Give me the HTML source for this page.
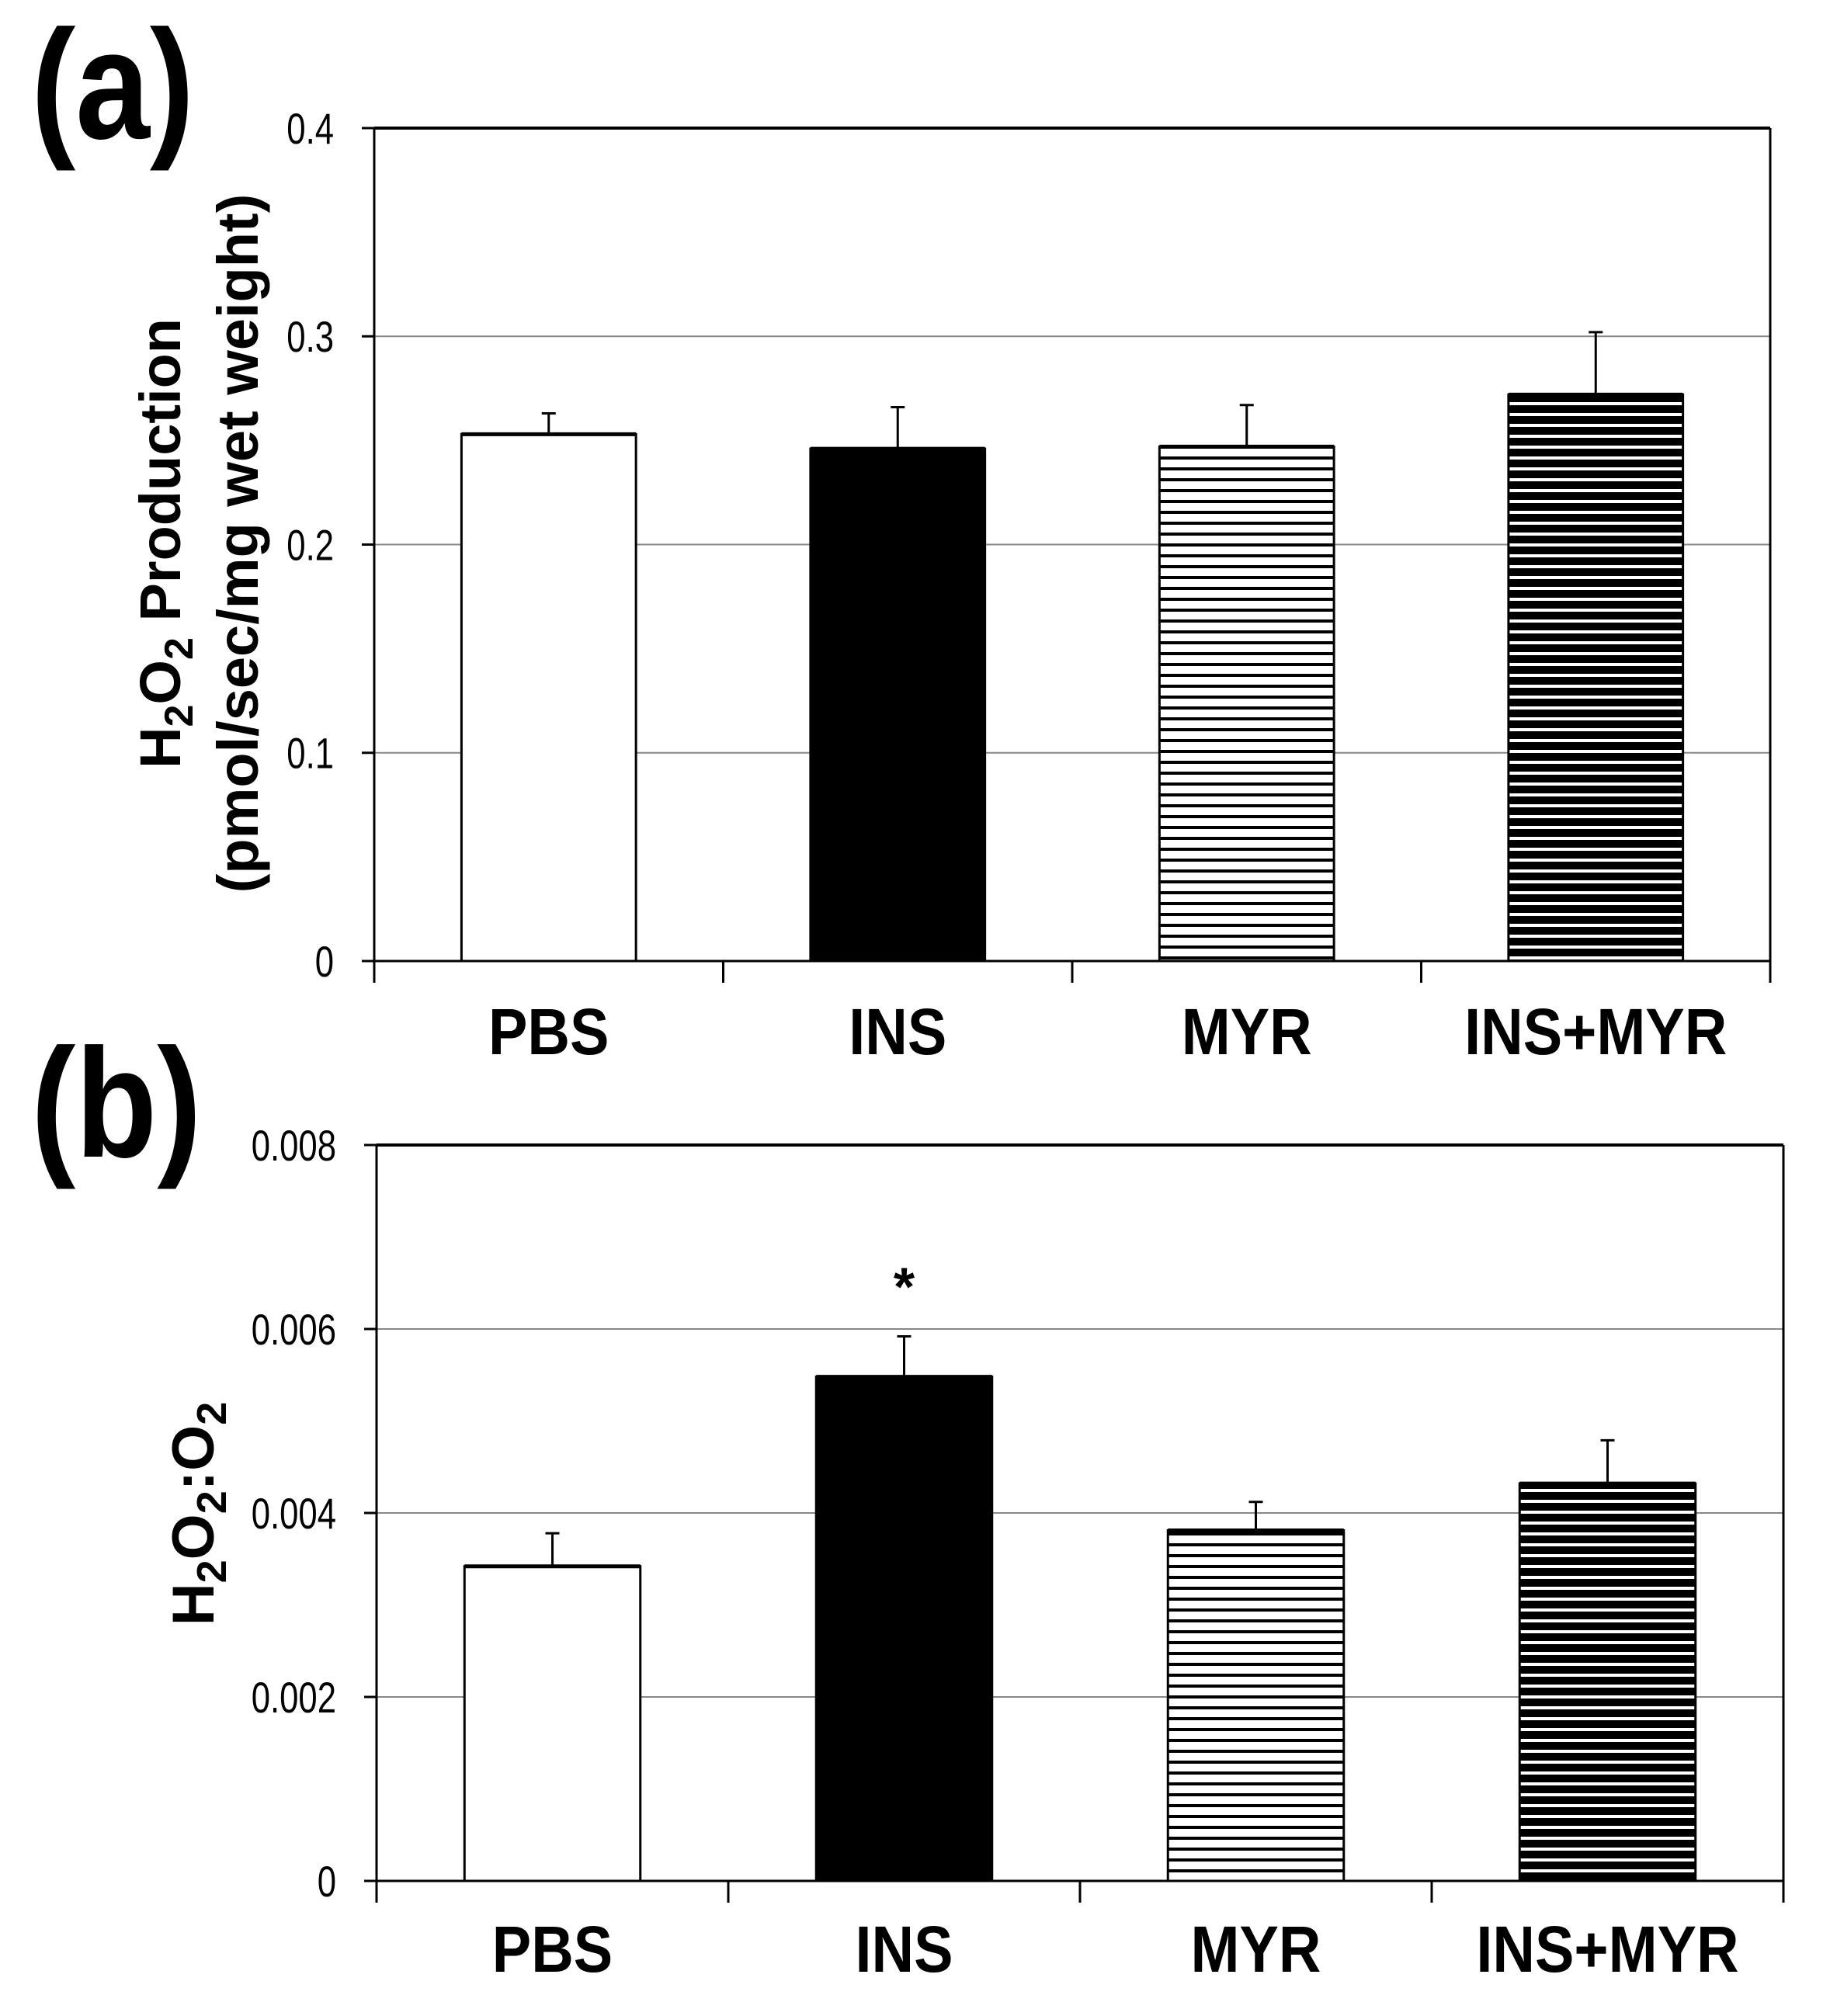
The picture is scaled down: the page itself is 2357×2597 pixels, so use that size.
<!DOCTYPE html>
<html><head><meta charset="utf-8"><style>
html,body{margin:0;padding:0;background:#fff}
svg{display:block}
text{font-family:"Liberation Sans",Arial,sans-serif}
</style></head><body>
<svg id="fig" width="2357" height="2597" viewBox="0 0 2357 2597" xmlns="http://www.w3.org/2000/svg">
<defs>
<pattern id="hatchW" patternUnits="userSpaceOnUse" width="20" height="14"><rect width="20" height="14" fill="#fff"/><rect y="0" width="20" height="4" fill="#000"/></pattern>
<pattern id="hatchB" patternUnits="userSpaceOnUse" width="20" height="14"><rect width="20" height="14" fill="#000"/><rect y="0" width="20" height="4" fill="#fff"/></pattern>
</defs>
<g id="gA"></g>
<g id="gB"></g>
</svg>
<script>
const categories = ["PBS","INS","MYR","INS+MYR"];
const valuesA = [0.253, 0.246, 0.247, 0.272];
const errorsA = [0.010, 0.020, 0.020, 0.030];
const ticksA = [0, 0.1, 0.2, 0.3, 0.4];
const tickLabelsA = ["0","0.1","0.2","0.3","0.4"];
const valuesB = [0.00342, 0.00548, 0.00381, 0.00432];
const errorsB = [0.00036, 0.00044, 0.00031, 0.00047];
const ticksB = [0, 0.002, 0.004, 0.006, 0.008];
const tickLabelsB = ["0","0.002","0.004","0.006","0.008"];
const fills = ["#fff","#000","url(#hatchW)","url(#hatchB)"];

const NS="http://www.w3.org/2000/svg";
function mk(p,tag,attrs){const e=document.createElementNS(NS,tag);for(const k in attrs)e.setAttribute(k,attrs[k]);p.appendChild(e);return e;}
function sx(x,s){return `translate(${x},0) scale(${s},1) translate(${-x},0)`;}

function panel(g,o){
  const y=v=>o.bottom-(v/o.max)*(o.bottom-o.top);
  const band=(o.right-o.left)/categories.length;
  const x=i=>o.left+band*i;
  o.ticks.forEach((t,i)=>{
    if(t>0&&t<o.max){const l=mk(g,'line',{x1:o.left,x2:o.right,y1:y(t),y2:y(t),stroke:'#888','stroke-width':2});
    
    }
    const tx=o.left-52;
    const tl=mk(g,'text',{x:tx,y:y(t)+20,'text-anchor':'end','font-size':56,fill:'#000',transform:sx(tx,0.78)});
    tl.textContent=o.labels[i];
    
    
    mk(g,'line',{x1:o.left-16,x2:o.left,y1:y(t),y2:y(t),stroke:'#000','stroke-width':3});
  });
  mk(g,'line',{x1:o.left,x2:o.right,y1:o.top,y2:o.top,stroke:'#000','stroke-width':4});
  mk(g,'line',{x1:o.right,x2:o.right,y1:o.top,y2:o.bottom+28,stroke:'#000','stroke-width':3});
  o.values.forEach((v,i)=>{
    const bw=band*0.5, bx=x(i)+band*0.25;
    const cx=bx+bw/2;
    const top=y(v+o.errors[i]);
    mk(g,'line',{x1:cx,x2:cx,y1:y(v),y2:top,stroke:'#000','stroke-width':3});
    mk(g,'line',{x1:cx-9,x2:cx+9,y1:top,y2:top,stroke:'#000','stroke-width':3});
    const r=mk(g,'rect',{x:bx,y:y(v),width:bw,height:y(0)-y(v),fill:fills[i],stroke:'#000','stroke-width':3});
    
    
    mk(g,'line',{x1:bx,x2:bx+bw,y1:y(v),y2:y(v),stroke:'#000','stroke-width':5});
    const cl=mk(g,'text',{x:cx,y:o.catY,'text-anchor':'middle','font-size':84,'font-weight':'bold',fill:'#000',transform:sx(cx,0.9)});
    cl.textContent=categories[i];
    
    
    if(o.star===i){const s=mk(g,'text',{x:cx,y:top-40,'text-anchor':'middle','font-size':70,'font-weight':'bold',fill:'#000'});s.textContent='*';
      
      }
  });
  mk(g,'line',{x1:o.left,x2:o.left,y1:o.top,y2:o.bottom+28,stroke:'#000','stroke-width':3});
  mk(g,'line',{x1:o.left,x2:o.right,y1:o.bottom,y2:o.bottom,stroke:'#000','stroke-width':3});
  for(let i=1;i<categories.length;i++) mk(g,'line',{x1:x(i),x2:x(i),y1:o.bottom,y2:o.bottom+28,stroke:'#000','stroke-width':3});
}
const gA=document.getElementById('gA'), gB=document.getElementById('gB');
panel(gA,{left:482,right:2280,top:165,bottom:1238,max:0.4,ticks:ticksA,labels:tickLabelsA,values:valuesA,errors:errorsA,catY:1358});
panel(gB,{left:485,right:2297,top:1475,bottom:2423,max:0.008,ticks:ticksB,labels:tickLabelsB,values:valuesB,errors:errorsB,catY:2540,star:1});

function txt(g,name,x,y,size,content,extra){const t=mk(g,'text',Object.assign({x:x,y:y,'font-size':size,'font-weight':'bold',fill:'#000'},extra||{}));t.innerHTML=content;
  
  return t;}
txt(gA,'panel-label-a',40,178,200,'(a)',{transform:sx(40,0.86)});
txt(gB,'panel-label-b',40,1490,200,'(b)',{transform:sx(40,0.86)});
txt(gA,'y-axis-title-line1',0,0,74,'H<tspan dy="16" font-size="52">2</tspan><tspan dy="-16">O</tspan><tspan dy="16" font-size="52">2</tspan><tspan dy="-16"> Production</tspan>',{'text-anchor':'middle',transform:'translate(232,700) rotate(-90)'});
txt(gA,'y-axis-title-line2',0,0,74,'(pmol/sec/mg wet weight)',{'text-anchor':'middle',transform:'translate(332,700) rotate(-90)'});
txt(gB,'y-axis-title',0,0,76,'H<tspan dy="16" font-size="54">2</tspan><tspan dy="-16">O</tspan><tspan dy="16" font-size="54">2</tspan><tspan dy="-16">:O</tspan><tspan dy="16" font-size="54">2</tspan>',{'text-anchor':'middle',transform:'translate(275,1950) rotate(-90)'});
</script>
</body></html>
